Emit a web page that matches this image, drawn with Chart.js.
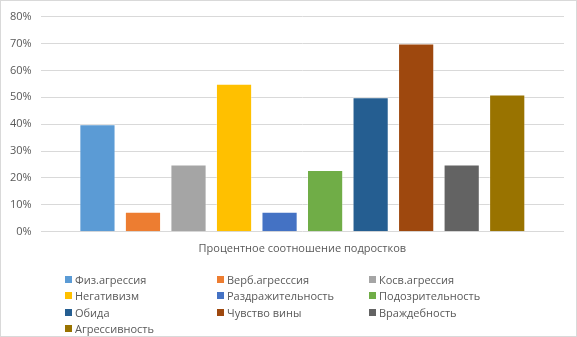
<!DOCTYPE html>
<html>
<head>
<meta charset="utf-8">
<script src="https://cdn.jsdelivr.net/npm/chart.js@4"></script>
<style>
  html, body { margin: 0; padding: 0; background: #fff; }
  #wrap { position: relative; width: 575px; height: 335px; border: 1px solid #d9d9d9; }
  #legend { position: absolute; left: 64px; top: 271px; display: grid;
    grid-template-columns: 152px 152px 152px; row-gap: 1px;
    font-family: "Open Sans", "Liberation Sans", sans-serif; font-size: 11px; color: #595959; }
  #legend div { display: flex; align-items: center; height: 15.3px; white-space: nowrap; }
  #legend span { display: inline-block; width: 7px; height: 7px; margin-right: 3px; }
</style>
</head>
<body>
<div id="wrap">
  <canvas id="chart" width="575" height="335"></canvas>
  <div id="legend"></div>
</div>
<script>
const category = ['Процентное соотношение подростков'];
const seriesNames = ['Физ.агрессия', 'Верб.агресссия', 'Косв.агрессия', 'Негативизм', 'Раздражительность',
  'Подозрительность', 'Обида', 'Чувство вины', 'Враждебность', 'Агрессивность'];
const seriesValues = [40, 7.5, 25, 55, 7.5, 23, 50, 70, 25, 51];
const colors = ['#5B9BD5', '#ED7D31', '#A5A5A5', '#FFC000', '#4472C4', '#70AD47', '#255E91', '#9E480E', '#636363', '#997300'];

const datasets = seriesNames.map((name, i) => ({
  label: name,
  data: [seriesValues[i]],
  backgroundColor: colors[i],
  borderColor: 'rgba(255,255,255,0.35)',
  borderWidth: 1,
  categoryPercentage: 0.87,
  barPercentage: 0.795
}));

var ctx = document.getElementById('chart').getContext('2d');
new Chart(ctx, {
  type: 'bar',
  data: { labels: category, datasets: datasets },
  options: {
    responsive: false,
    animation: false,
    layout: { padding: { left: 0, right: 12, top: 5, bottom: 79 } },
    scales: {
      x: {
        grid: { display: false },
        border: { display: false },
        ticks: { color: '#595959', font: { family: '"Open Sans", "Liberation Sans", sans-serif', size: 11 }, padding: 2 }
      },
      y: {
        min: 0, max: 80,
        ticks: { stepSize: 10, color: '#595959', padding: 9,
          font: { family: '"Open Sans", "Liberation Sans", sans-serif', size: 11 },
          callback: v => v + '%' },
        grid: { color: '#d9d9d9', drawTicks: false },
        border: { display: false }
      }
    },
    plugins: { legend: { display: false }, tooltip: { enabled: false } }
  }
});

const legend = document.getElementById('legend');
seriesNames.forEach((name, i) => {
  const d = document.createElement('div');
  d.innerHTML = '<span style="background:' + colors[i] + '"></span>' + name;
  legend.appendChild(d);
});
</script>
</body>
</html>
